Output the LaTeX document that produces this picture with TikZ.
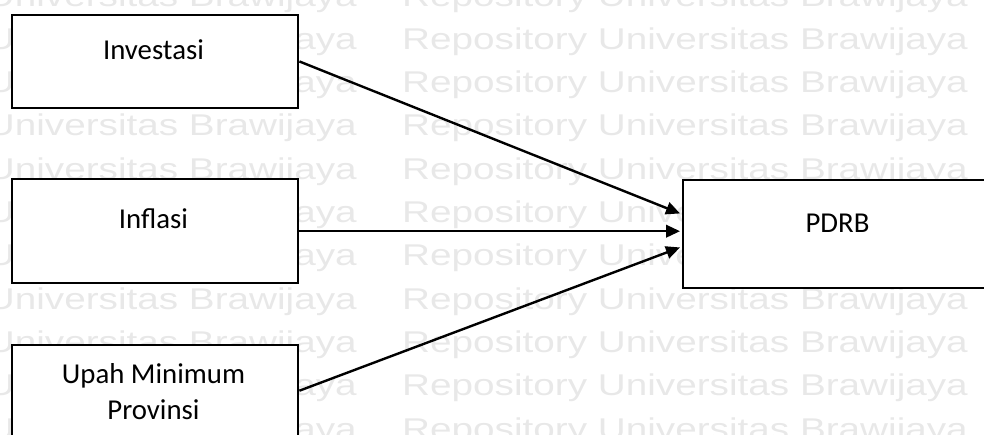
\documentclass[tikz,border=0pt]{standalone}
\usepackage{fontspec}
\setmainfont{Carlito}
\newfontfamily\wmfont{Liberation Sans}[FakeStretch=1.29]
\usetikzlibrary{arrows.meta,calc}
\definecolor{wmgray}{RGB}{232,232,232}

\begin{document}
\begin{tikzpicture}[x=1pt,y=-1pt,
  box/.style={draw=black, line width=2.4pt, fill=white, inner sep=0pt, anchor=north west},
  lbl/.style={anchor=base, inner sep=0pt, font=\fontsize{28.8}{34}\selectfont},
  wm/.style={anchor=base west, inner sep=0pt, text=wmgray, font=\wmfont\fontsize{30}{30}\selectfont},
  link/.style={line width=2.4pt, -{Triangle[length=14pt,width=12.5pt]}}]
\useasboundingbox (0,0) rectangle (984,434);
\begin{scope}
\clip (0,0) rectangle (984,434);
% background watermark rows
\foreach \k in {0,...,10}{
  \node[wm] at (-209, 6+43.3*\k) {Repository Universitas Brawijaya};
  \node[wm] at (402, 6+43.3*\k) {Repository Universitas Brawijaya};
}
% boxes
\node[box, minimum width=286pt, minimum height=92.5pt] (inv) at (11,14) {};
\node[box, minimum width=286pt, minimum height=104pt] (inf) at (11,178) {};
\node[box, minimum width=286pt, minimum height=91pt] (ump) at (11,344) {};
\node[box, minimum width=310pt, minimum height=107.5pt] (pdrb) at (681.5,179) {};
% labels
\node[lbl] (tinv) at (153.5,59.3) {Investasi};
\node[lbl] (tinf) at (153.5,228) {Inflasi};
\node[lbl] (tump1) at (153.5,383) {Upah Minimum};
\node[lbl] (tump2) at (153.5,419.6) {Provinsi};
\node[lbl] (tpdrb) at (837.5,232) {PDRB};
% connectors
\draw[link] (inv.east) -- ($(pdrb.west)+(-1.5,-20.5)$);
\draw[link] (inf.east) -- (inf.east -| {$(pdrb.west)+(-1.5,0)$});
\draw[link] (ump.east) -- ($(pdrb.west)+(-1.5,13.5)$);
\end{scope}
\end{tikzpicture}
\end{document}
